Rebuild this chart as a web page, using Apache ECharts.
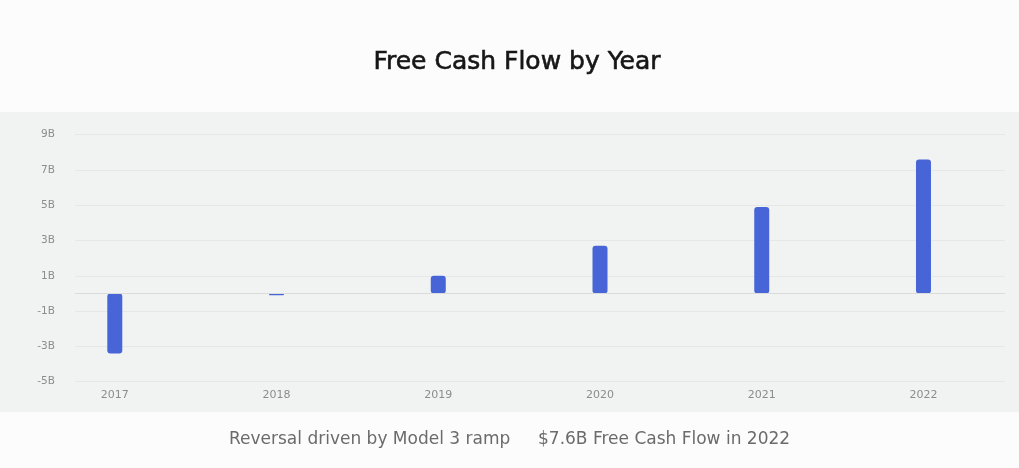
<!DOCTYPE html>
<html>
<head>
<meta charset="utf-8">
<script src="https://cdn.jsdelivr.net/npm/echarts@6/dist/echarts.min.js"></script>
<style>
  html, body { margin: 0; padding: 0; background: #fbfcfb; }
  #chart { width: 1019px; height: 468px; }
</style>
</head>
<body>
<div id="chart"></div>
<script>
// ---- data ----
var years = [2017, 2018, 2019, 2020, 2021, 2022];
var freeCashFlowB = [-3.4, -0.1, 1.0, 2.7, 4.9, 7.6];
var yTicks = [-5, -3, -1, 1, 3, 5, 7, 9];
var titleText = 'Free Cash Flow by Year';
var noteLeft = 'Reversal driven by Model 3 ramp';
var noteRight = '$7.6B Free Cash Flow in 2022';

var FONT = '"DejaVu Sans", "Noto Sans", sans-serif';

var chart = echarts.init(document.getElementById('chart'), null, { renderer: 'canvas' });

var seriesData = years.map(function (y, i) { return [y, freeCashFlowB[i]]; });

var option = {
  backgroundColor: '#fbfcfb',
  animation: false,
  graphic: [
    {
      type: 'rect', z: -10, silent: true,
      shape: { x: 0, y: 112, width: 1019, height: 300 },
      style: { fill: '#f1f3f2' }
    },
    {
      type: 'text', x: 517, y: 62,
      style: {
        text: titleText, font: '25px ' + FONT, fill: '#161616',
        stroke: '#161616', lineWidth: 0.6,
        align: 'center', verticalAlign: 'middle'
      }
    },
    {
      type: 'text', x: 229, y: 440,
      style: { text: noteLeft, font: '17px ' + FONT, fill: '#6b6b6b', align: 'left', verticalAlign: 'middle' }
    },
    {
      type: 'text', x: 538, y: 440,
      style: { text: noteRight, font: '17px ' + FONT, fill: '#6b6b6b', align: 'left', verticalAlign: 'middle' }
    }
  ],
  grid: {
    left: 75, right: 14, top: 134.7, bottom: 86.3,
    outerBoundsMode: 'none'
  },
  xAxis: {
    type: 'value',
    min: 2016.754,
    max: 2022.504,
    axisLine: { show: false },
    axisTick: { show: false },
    splitLine: { show: false },
    axisLabel: {
      customValues: years,
      formatter: function (v) { return String(v); },
      color: '#8c8c8c',
      fontSize: 11,
      fontFamily: FONT,
      margin: 8
    }
  },
  yAxis: {
    type: 'value',
    min: -5,
    max: 9,
    interval: 2,
    axisLine: { show: false },
    axisTick: { show: false },
    splitLine: { show: true, lineStyle: { color: '#e5e8e7', width: 1 } },
    axisLabel: {
      customValues: yTicks,
      formatter: function (v) { return v + 'B'; },
      color: '#8c8c8c',
      fontSize: 10.5,
      fontFamily: FONT,
      margin: 20
    }
  },
  series: [
    {
      type: 'bar',
      data: seriesData,
      barWidth: 15,
      itemStyle: { color: '#4865d8', borderRadius: 3 },
      markLine: {
        silent: true,
        symbol: ['none', 'none'],
        label: { show: false },
        lineStyle: { color: '#d9dcdb', width: 1, type: 'solid' },
        data: [{ yAxis: 0 }]
      }
    }
  ]
};

chart.setOption(option);
</script>
</body>
</html>
